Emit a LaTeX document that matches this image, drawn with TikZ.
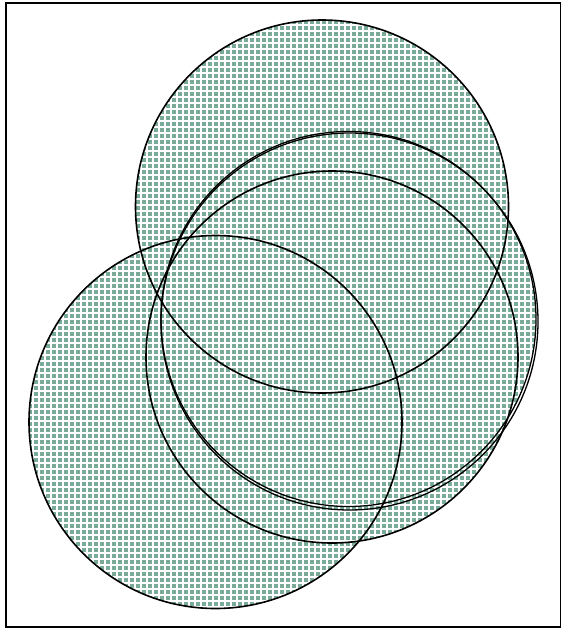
\documentclass[tikz,border=0pt]{standalone}
\definecolor{dotgreen}{RGB}{122,170,152}
\begin{document}
\begin{tikzpicture}[x=1pt,y=-1pt,
  ring/.style={draw=black,line width=1.6pt},
  thinring/.style={draw=black,line width=1.3pt},
  gap/.style={draw=white,line width=1.8pt},
  frame/.style={draw=black,line width=1.6pt}]
\useasboundingbox (0,0) rectangle (560,629);
\coordinate (cA) at (322,206.5);
\coordinate (cB) at (215.5,422);
\coordinate (cC) at (348.5,319);
\coordinate (cCC) at (349.5,321.5);
\coordinate (cD) at (332,357);
% filled union of the circles
\fill[dotgreen] (cA) circle (186.5) (cB) circle (186.5) (cC) circle (187.5) (cD) circle (186);
% dot pattern: white gaps clipped to the union
\begin{scope}
  \clip (cA) circle (186.5) (cB) circle (186.5) (cC) circle (187.5) (cD) circle (186);
  \foreach \x in {3.3,9.3,...,560} \draw[gap] (\x,0) -- (\x,629);
  \foreach \y in {0.7,6.7,...,629} \draw[gap] (0,\y) -- (560,\y);
\end{scope}
% outlines
\draw[ring] (cA) circle (186.5);
\draw[ring] (cB) circle (186.5);
\draw[ring] (cD) circle (186);
\draw[thinring] (cC) circle (187.5);
\draw[thinring] (cCC) circle (188.5);
% frame
\draw[frame] (6,3) rectangle (561,627);
\end{tikzpicture}
\end{document}
